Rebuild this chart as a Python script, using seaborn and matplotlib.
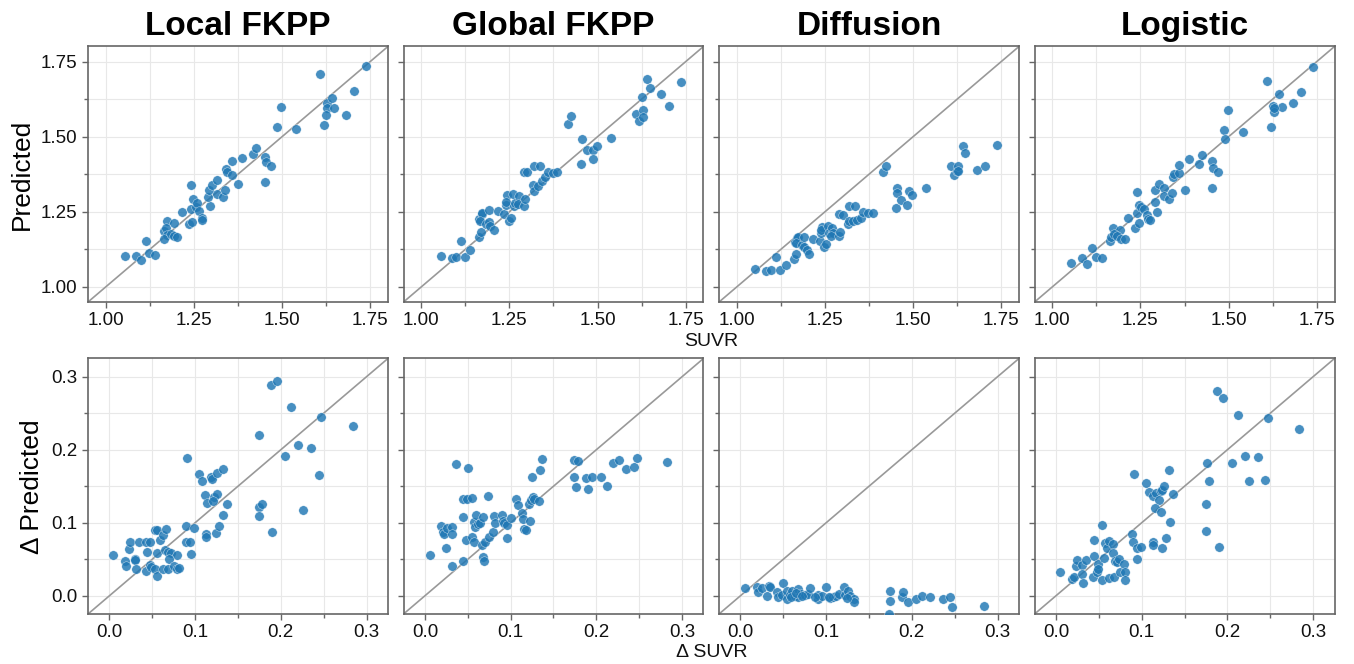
import numpy as np
import pandas as pd
import matplotlib
matplotlib.use("Agg")
import matplotlib.pyplot as plt
from matplotlib.ticker import MultipleLocator, FormatStrFormatter
import seaborn as sns

# ---------------- data ----------------
models = ["Local FKPP", "Global FKPP", "Diffusion", "Logistic"]

# Top row: SUVR (observed) vs Predicted
suvr_local = [1.054, 1.086, 1.099, 1.114, 1.124, 1.141, 1.173, 1.193, 1.165, 1.170, 1.175, 1.165, 1.184, 1.195,
              1.203, 1.215, 1.236, 1.245, 1.241, 1.241, 1.248, 1.255, 1.259, 1.264, 1.272, 1.273, 1.297, 1.290,
              1.292, 1.302, 1.316, 1.316, 1.333, 1.338, 1.342, 1.344, 1.357, 1.358, 1.375, 1.387, 1.418, 1.425,
              1.453, 1.455, 1.470, 1.453, 1.486, 1.496, 1.539, 1.607, 1.627, 1.642, 1.627, 1.648, 1.625, 1.618,
              1.681, 1.704, 1.737]
pred_local = [1.104, 1.102, 1.089, 1.153, 1.112, 1.108, 1.220, 1.213, 1.186, 1.197, 1.172, 1.160, 1.176, 1.169,
              1.167, 1.249, 1.210, 1.217, 1.339, 1.260, 1.293, 1.266, 1.278, 1.252, 1.230, 1.224, 1.269, 1.298,
              1.321, 1.338, 1.356, 1.310, 1.300, 1.322, 1.391, 1.382, 1.371, 1.419, 1.341, 1.428, 1.441, 1.462,
              1.432, 1.416, 1.403, 1.348, 1.532, 1.599, 1.524, 1.707, 1.613, 1.630, 1.594, 1.596, 1.572, 1.539,
              1.573, 1.653, 1.736]

suvr_global = [1.055, 1.086, 1.098, 1.113, 1.123, 1.139, 1.165, 1.169, 1.165, 1.171, 1.173, 1.168, 1.185, 1.193,
               1.196, 1.207, 1.193, 1.217, 1.236, 1.239, 1.243, 1.241, 1.249, 1.255, 1.259, 1.262, 1.267, 1.276,
               1.273, 1.290, 1.295, 1.291, 1.301, 1.319, 1.337, 1.317, 1.319, 1.331, 1.342, 1.351, 1.359, 1.373,
               1.386, 1.417, 1.424, 1.455, 1.452, 1.469, 1.486, 1.486, 1.498, 1.537, 1.608, 1.618, 1.628, 1.630,
               1.625, 1.641, 1.648, 1.681, 1.703, 1.737]
pred_global = [1.104, 1.095, 1.099, 1.154, 1.099, 1.124, 1.166, 1.184, 1.225, 1.242, 1.247, 1.219, 1.208, 1.216,
               1.203, 1.189, 1.255, 1.253, 1.244, 1.273, 1.305, 1.283, 1.219, 1.231, 1.308, 1.269, 1.281, 1.303,
               1.275, 1.269, 1.294, 1.381, 1.381, 1.403, 1.401, 1.340, 1.320, 1.336, 1.353, 1.366, 1.384, 1.378,
               1.384, 1.543, 1.570, 1.492, 1.409, 1.456, 1.456, 1.427, 1.470, 1.496, 1.574, 1.551, 1.590, 1.566,
               1.631, 1.692, 1.661, 1.642, 1.603, 1.681]

suvr_diff = [1.053, 1.084, 1.096, 1.112, 1.123, 1.139, 1.162, 1.168, 1.164, 1.171, 1.175, 1.167, 1.185, 1.192,
             1.199, 1.206, 1.192, 1.216, 1.236, 1.238, 1.241, 1.239, 1.247, 1.254, 1.258, 1.263, 1.270, 1.273,
             1.268, 1.291, 1.294, 1.290, 1.301, 1.318, 1.336, 1.315, 1.318, 1.329, 1.341, 1.351, 1.357, 1.371,
             1.386, 1.416, 1.424, 1.453, 1.451, 1.453, 1.467, 1.484, 1.487, 1.496, 1.536, 1.607, 1.616, 1.624,
             1.627, 1.626, 1.640, 1.647, 1.680, 1.703, 1.737]
pred_diff = [1.059, 1.052, 1.058, 1.099, 1.058, 1.074, 1.094, 1.110, 1.150, 1.163, 1.167, 1.147, 1.141, 1.133,
             1.122, 1.111, 1.167, 1.161, 1.152, 1.180, 1.199, 1.188, 1.133, 1.144, 1.202, 1.180, 1.197, 1.180,
             1.169, 1.171, 1.182, 1.244, 1.241, 1.271, 1.269, 1.208, 1.221, 1.219, 1.224, 1.230, 1.249, 1.246,
             1.246, 1.383, 1.402, 1.330, 1.264, 1.313, 1.288, 1.272, 1.319, 1.306, 1.328, 1.404, 1.371, 1.387,
             1.404, 1.386, 1.469, 1.447, 1.388, 1.404, 1.472]

suvr_logistic = [1.054, 1.085, 1.098, 1.113, 1.124, 1.140, 1.173, 1.191, 1.164, 1.167, 1.174, 1.183, 1.195, 1.205,
                 1.216, 1.236, 1.246, 1.241, 1.240, 1.247, 1.253, 1.260, 1.269, 1.271, 1.276, 1.297, 1.291, 1.292,
                 1.302, 1.317, 1.317, 1.332, 1.339, 1.342, 1.345, 1.358, 1.359, 1.375, 1.387, 1.417, 1.425, 1.453,
                 1.455, 1.470, 1.452, 1.487, 1.489, 1.498, 1.540, 1.609, 1.625, 1.642, 1.628, 1.650, 1.629, 1.619,
                 1.682, 1.705, 1.738]
pred_logistic = [1.080, 1.096, 1.078, 1.129, 1.099, 1.097, 1.196, 1.189, 1.152, 1.167, 1.177, 1.169, 1.161, 1.160,
                 1.229, 1.197, 1.213, 1.316, 1.247, 1.272, 1.266, 1.258, 1.241, 1.227, 1.224, 1.251, 1.282, 1.321,
                 1.344, 1.328, 1.302, 1.291, 1.313, 1.366, 1.377, 1.378, 1.407, 1.324, 1.426, 1.409, 1.438, 1.420,
                 1.396, 1.383, 1.329, 1.522, 1.493, 1.588, 1.514, 1.684, 1.602, 1.643, 1.582, 1.599, 1.597, 1.533,
                 1.612, 1.647, 1.733]

# Bottom row: Delta SUVR vs Delta Predicted
dsuvr_local = [0.004, 0.018, 0.019, 0.023, 0.024, 0.030, 0.030, 0.031, 0.034, 0.043, 0.047, 0.044, 0.043, 0.047,
               0.049, 0.053, 0.056, 0.053, 0.056, 0.059, 0.062, 0.066, 0.056, 0.065, 0.068, 0.072, 0.079, 0.069,
               0.062, 0.068, 0.075, 0.079, 0.081, 0.089, 0.089, 0.094, 0.095, 0.099, 0.091, 0.105, 0.108, 0.118,
               0.120, 0.126, 0.132, 0.112, 0.114, 0.122, 0.125, 0.121, 0.137, 0.133, 0.113, 0.113, 0.124, 0.128,
               0.175, 0.174, 0.178, 0.174, 0.190, 0.188, 0.196, 0.212, 0.205, 0.220, 0.235, 0.226, 0.244, 0.247,
               0.284]
dpred_local = [0.056, 0.048, 0.041, 0.064, 0.074, 0.051, 0.049, 0.037, 0.074, 0.074, 0.074, 0.060, 0.034, 0.042,
               0.040, 0.037, 0.027, 0.090, 0.090, 0.077, 0.083, 0.091, 0.058, 0.062, 0.060, 0.059, 0.056, 0.050,
               0.036, 0.037, 0.041, 0.036, 0.038, 0.095, 0.074, 0.074, 0.057, 0.093, 0.189, 0.167, 0.157, 0.163,
               0.160, 0.168, 0.174, 0.138, 0.127, 0.135, 0.140, 0.130, 0.126, 0.111, 0.084, 0.080, 0.086, 0.095,
               0.220, 0.121, 0.126, 0.109, 0.087, 0.289, 0.294, 0.258, 0.191, 0.206, 0.203, 0.117, 0.165, 0.245,
               0.233]

dsuvr_global = [0.006, 0.019, 0.021, 0.022, 0.026, 0.031, 0.032, 0.024, 0.031, 0.044, 0.036, 0.050, 0.044, 0.049,
                0.055, 0.044, 0.048, 0.055, 0.057, 0.057, 0.060, 0.058, 0.062, 0.064, 0.068, 0.066, 0.070, 0.068,
                0.069, 0.074, 0.075, 0.079, 0.080, 0.082, 0.090, 0.091, 0.092, 0.096, 0.096, 0.100, 0.106, 0.109,
                0.113, 0.114, 0.116, 0.118, 0.123, 0.121, 0.124, 0.126, 0.127, 0.133, 0.125, 0.134, 0.137, 0.174,
                0.179, 0.174, 0.176, 0.188, 0.195, 0.190, 0.205, 0.212, 0.220, 0.226, 0.235, 0.244, 0.247, 0.283]
dpred_global = [0.056, 0.095, 0.088, 0.085, 0.093, 0.094, 0.085, 0.065, 0.041, 0.048, 0.180, 0.175, 0.133, 0.133,
                0.134, 0.108, 0.076, 0.081, 0.073, 0.101, 0.111, 0.094, 0.098, 0.099, 0.108, 0.070, 0.074, 0.053,
                0.047, 0.136, 0.080, 0.088, 0.109, 0.100, 0.111, 0.102, 0.100, 0.079, 0.097, 0.107, 0.132, 0.124,
                0.114, 0.105, 0.091, 0.090, 0.102, 0.125, 0.131, 0.135, 0.132, 0.130, 0.163, 0.172, 0.187, 0.186,
                0.185, 0.162, 0.149, 0.161, 0.162, 0.146, 0.162, 0.151, 0.182, 0.186, 0.174, 0.176, 0.189, 0.183]

dsuvr_diff = [0.005, 0.019, 0.021, 0.025, 0.031, 0.033, 0.035, 0.043, 0.044, 0.050, 0.048, 0.054, 0.054, 0.058,
              0.060, 0.064, 0.067, 0.067, 0.071, 0.075, 0.079, 0.081, 0.091, 0.091, 0.095, 0.100, 0.105, 0.108,
              0.112, 0.115, 0.121, 0.122, 0.126, 0.128, 0.133, 0.133, 0.175, 0.174, 0.173, 0.188, 0.190, 0.195,
              0.205, 0.212, 0.221, 0.236, 0.244, 0.247, 0.284, 0.059, 0.065, 0.072, 0.087, 0.103, 0.124]
dpred_diff = [0.011, 0.012, 0.005, 0.010, 0.000, 0.013, 0.012, 0.005, -0.002, 0.018, 0.001, 0.007, -0.005, 0.001,
              0.006, 0.000, 0.009, -0.002, 0.002, 0.001, 0.002, 0.010, -0.005, 0.001, 0.000, 0.012, -0.003, -0.002,
              0.000, 0.002, 0.012, 0.001, 0.007, -0.001, -0.005, -0.008, 0.007, -0.007, -0.025, -0.002, 0.005, -0.008,
              -0.004, -0.001, -0.002, -0.005, -0.002, -0.016, -0.014, -0.002, 0.004, -0.001, -0.002, -0.002, -0.003]

dsuvr_logistic = [0.005, 0.019, 0.021, 0.023, 0.025, 0.030, 0.030, 0.031, 0.035, 0.043, 0.044, 0.044, 0.048, 0.049,
                  0.049, 0.054, 0.054, 0.056, 0.057, 0.059, 0.062, 0.062, 0.066, 0.066, 0.068, 0.069, 0.071, 0.074,
                  0.075, 0.079, 0.080, 0.081, 0.089, 0.090, 0.095, 0.099, 0.095, 0.091, 0.105, 0.108, 0.113, 0.117,
                  0.122, 0.124, 0.126, 0.120, 0.115, 0.122, 0.137, 0.132, 0.133, 0.113, 0.113, 0.124, 0.128, 0.176,
                  0.178, 0.175, 0.175, 0.190, 0.188, 0.195, 0.212, 0.205, 0.220, 0.236, 0.225, 0.244, 0.247, 0.284]
dpred_logistic = [0.033, 0.023, 0.026, 0.041, 0.049, 0.042, 0.030, 0.018, 0.049, 0.025, 0.054, 0.077, 0.033, 0.043,
                  0.036, 0.097, 0.022, 0.052, 0.072, 0.065, 0.075, 0.024, 0.071, 0.058, 0.026, 0.048, 0.046, 0.051,
                  0.033, 0.043, 0.032, 0.021, 0.084, 0.074, 0.066, 0.067, 0.050, 0.167, 0.155, 0.142, 0.137, 0.141,
                  0.143, 0.145, 0.150, 0.131, 0.120, 0.115, 0.139, 0.172, 0.101, 0.073, 0.070, 0.066, 0.079, 0.182,
                  0.157, 0.125, 0.089, 0.067, 0.280, 0.271, 0.248, 0.182, 0.192, 0.190, 0.157, 0.159, 0.243, 0.228]

top_x = [suvr_local, suvr_global, suvr_diff, suvr_logistic]
top_y = [pred_local, pred_global, pred_diff, pred_logistic]
bot_x = [dsuvr_local, dsuvr_global, dsuvr_diff, dsuvr_logistic]
bot_y = [dpred_local, dpred_global, dpred_diff, dpred_logistic]

top_lim = (0.95, 1.80)
bot_lim = (-0.025, 0.325)

# ---------------- style ----------------
sns.set_theme(style="white")
plt.rcParams["font.family"] = ["Liberation Sans", "DejaVu Sans"]
plt.rcParams["axes.edgecolor"] = "#666666"
plt.rcParams["axes.linewidth"] = 1.2
plt.rcParams["text.color"] = "black"
plt.rcParams["axes.labelcolor"] = "black"

fig, axes = plt.subplots(2, 4, figsize=(13.54, 6.64), dpi=100, sharey="row")
fig.subplots_adjust(left=0.065, right=0.9856, top=0.930, bottom=0.0753, wspace=0.052, hspace=0.221)

pt_color = "#1f77b4"

def style_axis(ax, lim, major, minor, fmt):
    ax.set_xlim(lim)
    ax.set_ylim(lim)
    for axis in (ax.xaxis, ax.yaxis):
        axis.set_major_locator(MultipleLocator(major))
        axis.set_minor_locator(MultipleLocator(minor))
        axis.set_major_formatter(FormatStrFormatter(fmt))
    ax.grid(True, which="both", color="#e8e8e8", lw=0.8)
    ax.set_axisbelow(True)
    ax.tick_params(which="both", direction="out", length=4, width=1.0, color="#666666",
                   labelsize=13.5, labelcolor="#111111", bottom=True, left=True)
    ax.tick_params(which="minor", length=3)
    for s in ax.spines.values():
        s.set_color("#666666")
        s.set_linewidth(1.2)
    ax.plot(lim, lim, color="#999999", lw=1.2, zorder=1)
    ax.set_xlabel("")
    ax.set_ylabel("")

for j in range(4):
    ax = axes[0, j]
    sns.scatterplot(x=top_x[j], y=top_y[j], ax=ax, color=pt_color, alpha=0.82, s=46,
                    edgecolor="white", linewidth=0.3, zorder=3)
    style_axis(ax, top_lim, 0.25, 0.125, "%.2f")
    ax.set_title(models[j], fontsize=24, fontweight="bold", pad=8, color="black")

    ax = axes[1, j]
    sns.scatterplot(x=bot_x[j], y=bot_y[j], ax=ax, color=pt_color, alpha=0.82, s=46,
                    edgecolor="white", linewidth=0.3, zorder=3)
    style_axis(ax, bot_lim, 0.1, 0.05, "%.1f")

axes[0, 0].set_ylabel("Predicted", fontsize=19, labelpad=5, color="black")
axes[1, 0].set_ylabel("Δ Predicted", fontsize=19, labelpad=5, color="black")

xc = (0.065 + 0.9856) / 2
fig.text(xc, 0.485, "SUVR", ha="center", va="center", fontsize=14, color="#111111")
fig.text(xc, 0.018, "Δ SUVR", ha="center", va="center", fontsize=14, color="#111111")

fig.savefig("out.png", dpi=100)
